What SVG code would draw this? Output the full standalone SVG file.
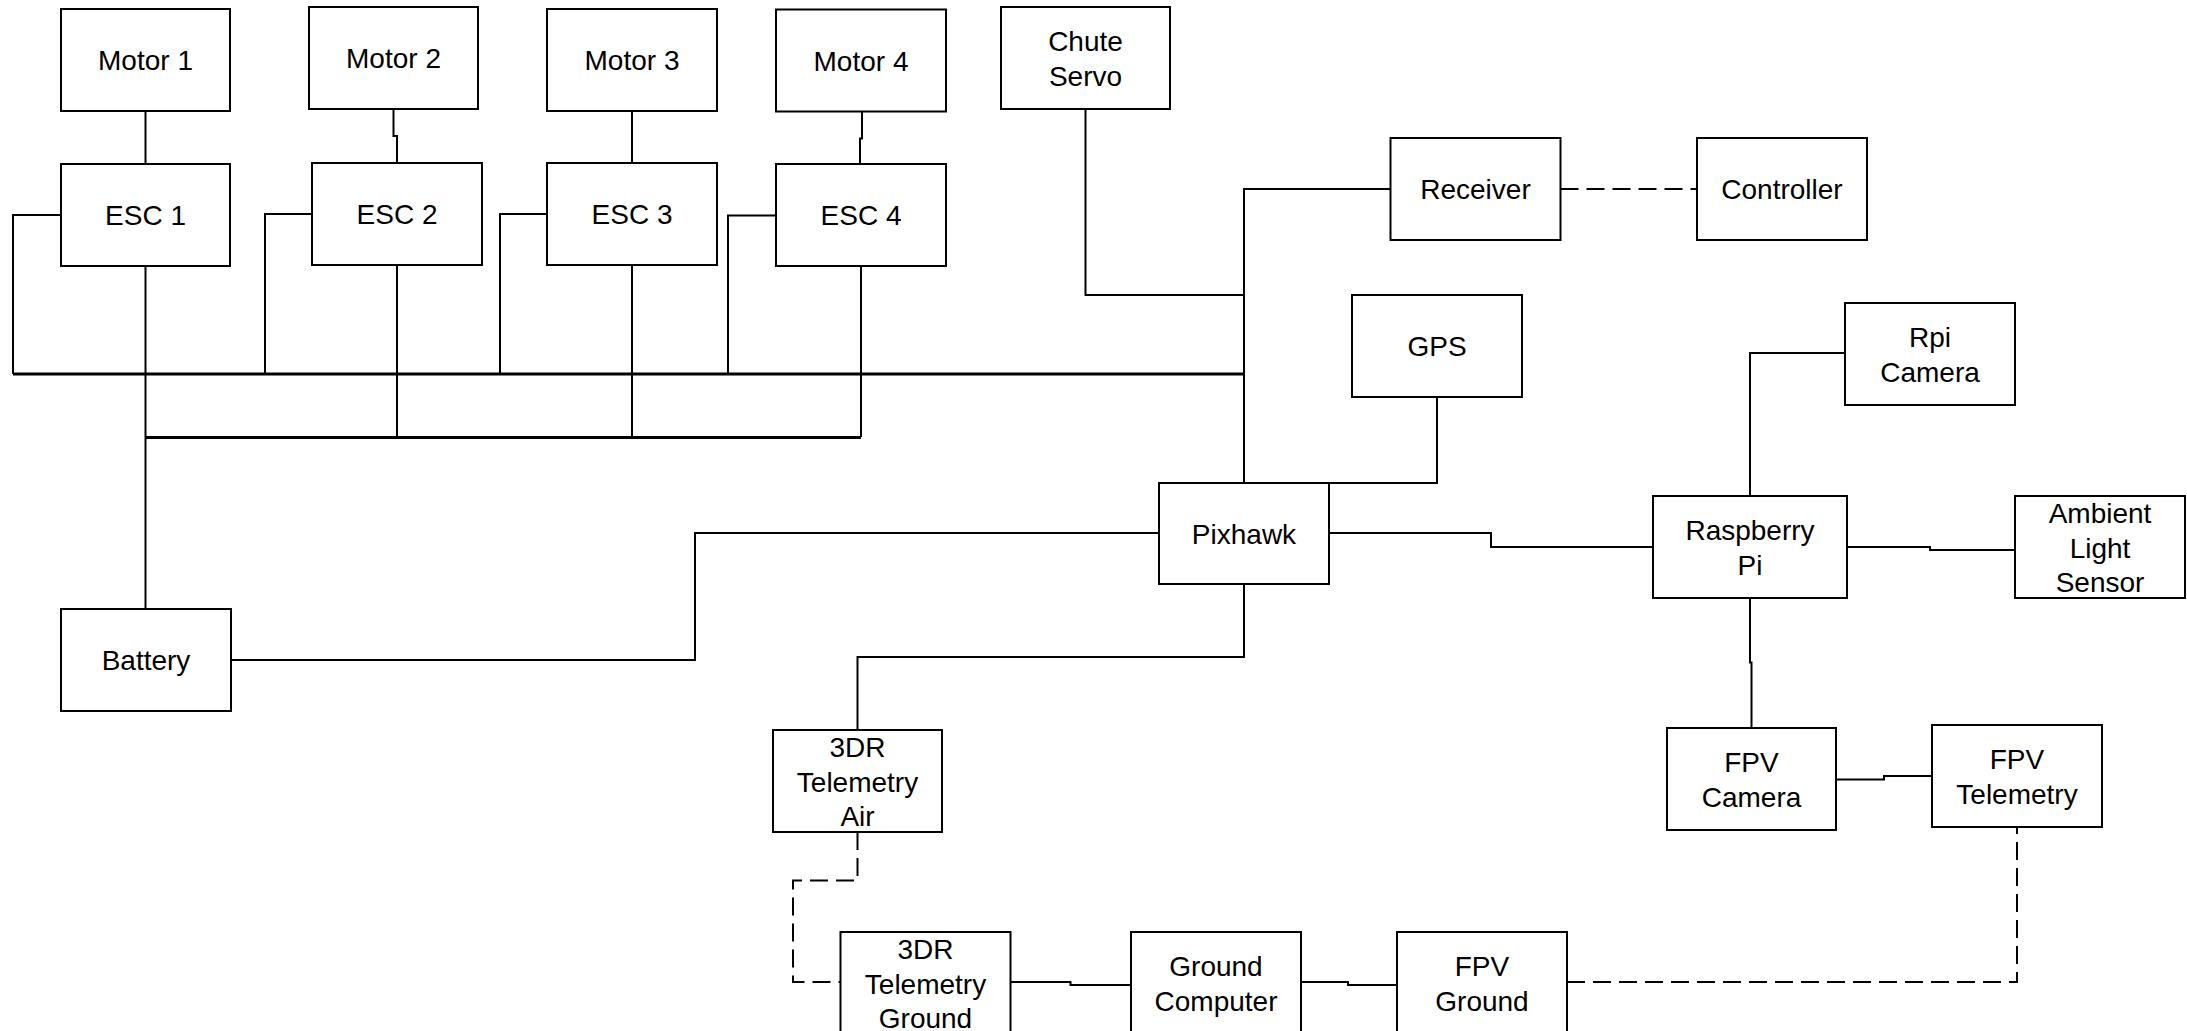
<svg xmlns="http://www.w3.org/2000/svg" width="2187" height="1031" viewBox="0 0 2187 1031">
<style>
.box{fill:#fff;stroke:#000;stroke-width:2}
.ln{fill:none;stroke:#000;stroke-width:2}
.bus{fill:none;stroke:#000;stroke-width:3}
.dash{fill:none;stroke:#000;stroke-width:2;stroke-dasharray:18 8}
text{font-family:"Liberation Sans",Arial,sans-serif;font-size:28px;fill:#000;text-anchor:middle}
</style>
<rect width="2187" height="1031" fill="#fff"/>
<g id="connectors">
<path class="ln" d="M145.5 111V164"/>
<path class="ln" d="M393.5 109V136H397V163"/>
<path class="ln" d="M632 111V163"/>
<path class="ln" d="M862 111.5V138.5H860V164"/>
<path class="ln" d="M61 215H13V374"/>
<path class="ln" d="M312 214H265V374"/>
<path class="ln" d="M547 214H500V374"/>
<path class="ln" d="M776 215.5H728V374"/>
<path class="bus" d="M13 374H1244"/>
<path class="ln" d="M145.5 266V609"/>
<path class="ln" d="M397 265V437"/>
<path class="ln" d="M632 265V437"/>
<path class="ln" d="M861 266V437"/>
<path class="bus" d="M145.5 437.5H861"/>
<path class="ln" d="M1085.5 109V295H1244"/>
<path class="ln" d="M1390.5 189H1244V483"/>
<path class="ln" d="M1437 397V483H1329"/>
<path class="ln" d="M231 660H695V533H1159"/>
<path class="ln" d="M1329 533H1491V547H1653"/>
<path class="ln" d="M1244 584V657H857.5V730"/>
<path class="dash" d="M857.5 832V880.5H793V982H840.5"/>
<path class="ln" d="M1010.5 982H1070.5V985H1131"/>
<path class="ln" d="M1301 982H1348V985H1397"/>
<path class="dash" d="M1567 982H2017V827"/>
<path class="dash" d="M1560.5 189H1697"/>
<path class="ln" d="M1845 353H1750V496"/>
<path class="ln" d="M1847 547H1930V550H2015"/>
<path class="ln" d="M1750 598V662.5H1751.5V728"/>
<path class="ln" d="M1836 779.5H1884V776H1932"/>
</g>
<g id="motor1"><rect class="box" x="61" y="9" width="169" height="102"/><text x="145.5" y="70">Motor 1</text></g>
<g id="motor2"><rect class="box" x="309" y="7" width="169" height="102"/><text x="393.5" y="68">Motor 2</text></g>
<g id="motor3"><rect class="box" x="547" y="9" width="170" height="102"/><text x="632" y="70">Motor 3</text></g>
<g id="motor4"><rect class="box" x="776" y="9.5" width="170" height="102"/><text x="861" y="70.5">Motor 4</text></g>
<g id="chute-servo"><rect class="box" x="1001" y="7" width="169" height="102"/><text x="1085.5" y="51">Chute</text><text x="1085.5" y="85.5">Servo</text></g>
<g id="esc1"><rect class="box" x="61" y="164" width="169" height="102"/><text x="145.5" y="225">ESC 1</text></g>
<g id="esc2"><rect class="box" x="312" y="163" width="170" height="102"/><text x="397" y="224">ESC 2</text></g>
<g id="esc3"><rect class="box" x="547" y="163" width="170" height="102"/><text x="632" y="224">ESC 3</text></g>
<g id="esc4"><rect class="box" x="776" y="164" width="170" height="102"/><text x="861" y="225">ESC 4</text></g>
<g id="receiver"><rect class="box" x="1390.5" y="138" width="170" height="102"/><text x="1475.5" y="199">Receiver</text></g>
<g id="controller"><rect class="box" x="1697" y="138" width="170" height="102"/><text x="1782" y="199">Controller</text></g>
<g id="gps"><rect class="box" x="1352" y="295" width="170" height="102"/><text x="1437" y="356">GPS</text></g>
<g id="rpi-camera"><rect class="box" x="1845" y="303" width="170" height="102"/><text x="1930" y="347">Rpi</text><text x="1930" y="381.5">Camera</text></g>
<g id="pixhawk"><rect class="box" x="1159" y="483" width="170" height="101"/><text x="1244" y="543.5">Pixhawk</text></g>
<g id="raspberry-pi"><rect class="box" x="1653" y="496" width="194" height="102"/><text x="1750" y="540">Raspberry</text><text x="1750" y="574.5">Pi</text></g>
<g id="ambient-light-sensor"><rect class="box" x="2015" y="496" width="170" height="102"/><text x="2100" y="523">Ambient</text><text x="2100" y="557.5">Light</text><text x="2100" y="592">Sensor</text></g>
<g id="battery"><rect class="box" x="61" y="609" width="170" height="102"/><text x="146" y="670">Battery</text></g>
<g id="telemetry-air"><rect class="box" x="773" y="730" width="169" height="102"/><text x="857.5" y="757">3DR</text><text x="857.5" y="791.5">Telemetry</text><text x="857.5" y="826">Air</text></g>
<g id="fpv-camera"><rect class="box" x="1667" y="728" width="169" height="102"/><text x="1751.5" y="772">FPV</text><text x="1751.5" y="806.5">Camera</text></g>
<g id="fpv-telemetry"><rect class="box" x="1932" y="725" width="170" height="102"/><text x="2017" y="769">FPV</text><text x="2017" y="803.5">Telemetry</text></g>
<g id="telemetry-ground"><rect class="box" x="840.5" y="932" width="170" height="102"/><text x="925.5" y="959">3DR</text><text x="925.5" y="993.5">Telemetry</text><text x="925.5" y="1028">Ground</text></g>
<g id="ground-computer"><rect class="box" x="1131" y="932" width="170" height="102"/><text x="1216" y="976">Ground</text><text x="1216" y="1010.5">Computer</text></g>
<g id="fpv-ground"><rect class="box" x="1397" y="932" width="170" height="102"/><text x="1482" y="976">FPV</text><text x="1482" y="1010.5">Ground</text></g>
</svg>
